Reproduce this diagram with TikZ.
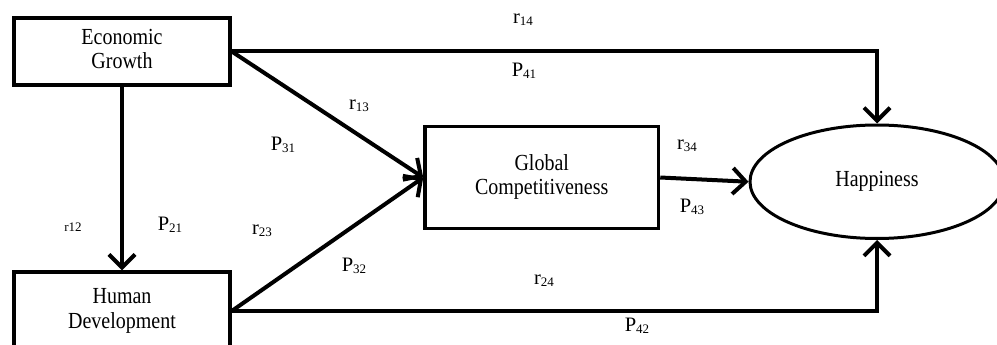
\documentclass[tikz,border=0pt]{standalone}
\usepackage{fontspec}
\setmainfont{Liberation Serif}
\usetikzlibrary{arrows.meta,shapes.geometric}
\newcommand\lsub[1]{\raisebox{-2pt}{\fontsize{13}{14}\selectfont #1}}
\newcommand\twoline[2]{\scalebox{1}[1.15]{\begin{tabular}{@{}c@{}}#1\\#2\end{tabular}}}
\begin{document}
\begin{tikzpicture}[x=1pt,y=-1pt,
 box/.style={draw,line width=3.5pt,rectangle,inner sep=0pt,align=center,font=\fontsize{20}{21.7}\selectfont},
 oval/.style={draw,line width=3pt,ellipse,inner sep=0pt,font=\fontsize{20}{21.7}\selectfont},
 conn/.style={line width=4pt,-{Straight Barb[length=13pt,width=26pt]}},
 lab/.style={inner sep=0pt,font=\fontsize{20.5}{22}\selectfont},
 smalllab/.style={inner sep=0pt,font=\fontsize{13}{15}\selectfont}]
\useasboundingbox (0,0) rectangle (997,345);
\begin{scope}
\clip (0,0) rectangle (997,345);
\node[box,minimum width=216pt,minimum height=67pt] (eg) at (122,51.5) {\twoline{Economic}{Growth}};
\node[box,minimum width=216pt,minimum height=78pt] (hd) at (122,311) {\twoline{Human}{Development}};
\node[box,minimum width=233.5pt,minimum height=102pt] (gc) at (541.75,177.5) {\twoline{Global}{Competitiveness}};
\node[oval,minimum width=254pt,minimum height=113.5pt] (hap) at (877,181.75) {\scalebox{1}[1.15]{Happiness}};

\draw[conn] (eg.south) -- (hd.north);
\draw[conn] (eg.east) -| (hap.north);
\draw[conn] (eg.east) -- (gc.west);
\draw[conn] (hd.east) -- (gc.west);
\draw[conn] (hd.east) -| (hap.south);
\draw[conn] (gc.east) -- (hap.west);

\node[lab] (l14) at (523,20) {r\lsub{14}};
\node[lab] (p41) at (524,71) {P\lsub{41}};
\node[lab] (l13) at (359,106) {r\lsub{13}};
\node[lab] (p31) at (283,145) {P\lsub{31}};
\node[smalllab] (l12) at (73,227) {r12};
\node[lab] (p21) at (170,225) {P\lsub{21}};
\node[lab] (l23) at (262,231) {r\lsub{23}};
\node[lab] (p32) at (354,266) {P\lsub{32}};
\node[lab] (l24) at (544,281) {r\lsub{24}};
\node[lab] (p42) at (637,326) {P\lsub{42}};
\node[lab] (l34) at (687,146) {r\lsub{34}};
\node[lab] (p43) at (692,207) {P\lsub{43}};
\end{scope}
\end{tikzpicture}
\end{document}
